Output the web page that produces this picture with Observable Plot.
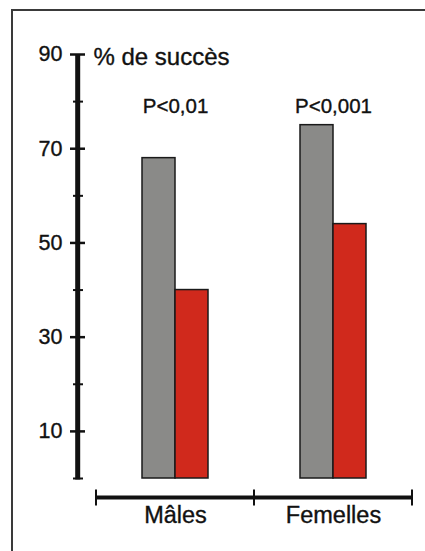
<!DOCTYPE html>
<html>
<head>
<meta charset="utf-8">
<script src="https://cdn.jsdelivr.net/npm/d3@7"></script>
<script src="https://cdn.jsdelivr.net/npm/@observablehq/plot@0.6"></script>
<style>
  html, body { margin: 0; padding: 0; background: #fff; }
  #wrap { position: relative; width: 425px; height: 551px; overflow: hidden; }
  #cadre { position: absolute; left: 10.5px; top: 8.5px; right: -20px; bottom: -20px;
           border-top: 2px solid #3a3a3a; border-left: 2px solid #3a3a3a; }
  #chart { position: absolute; left: 0; top: 0; }
  #chart text { paint-order: stroke; stroke: #111; stroke-width: 0.35px; }
</style>
</head>
<body>
<div id="wrap"><div id="cadre"></div><div id="chart"></div></div>
<script>
// ---- Données ----
const groupes = ["Mâles", "Femelles"];
const series = ["gris", "rouge"];
const valeursGris = [68, 75];
const valeursRouge = [40, 54];
const pValeurs = ["P<0,01", "P<0,001"];
const ticksMajeurs = [10, 30, 50, 70, 90];
const ticksMineurs = [0, 20, 40, 60, 80];
const titreAxe = "% de succès";
const couleurs = ["#8a8a88", "#d0291c"];

const donnees = groupes.flatMap((g, i) => [
  {groupe: g, serie: series[0], valeur: valeursGris[i]},
  {groupe: g, serie: series[1], valeur: valeursRouge[i]}
]);
const pTable = groupes.map((g, i) => ({groupe: g, p: pValeurs[i]}));

const ink = "#111";
const chart = Plot.plot({
  width: 425,
  height: 551,
  marginLeft: 95,
  marginRight: 13,
  marginTop: 54,
  marginBottom: 73,
  style: {fontFamily: "'Liberation Sans', Arial, sans-serif", background: "transparent", color: ink, overflow: "visible"},
  fx: {domain: groupes, padding: 0, axis: null},
  x: {domain: series, paddingInner: 0, paddingOuter: 1.39, axis: null},
  y: {domain: [0, 90], axis: null},
  color: {domain: series, range: couleurs},
  marks: [
    Plot.barY(donnees, {fx: "groupe", x: "serie", y: "valeur", fill: "serie", stroke: "#1a1a1a", strokeWidth: 1.5}),
    Plot.axisY(ticksMajeurs, {anchor: "left", label: null, tickSize: 15, dx: -11, tickPadding: 8,
      strokeWidth: 2.5, stroke: ink, fontSize: 21.5, fill: ink}),
    Plot.axisY(ticksMineurs, {anchor: "left", label: null, tickSize: 10, dx: -13, tickFormat: () => "",
      strokeWidth: 2, stroke: ink}),
    Plot.text(pTable, {fx: "groupe", text: "p", frameAnchor: "top", dy: 44, fontSize: 20.5, fill: ink}),
    Plot.text(groupes, {fx: d => d, text: d => d, frameAnchor: "bottom", dy: 44, fontSize: 23.5, fill: ink}),
    Plot.text([titreAxe], {fx: () => groupes[0], text: d => d, frameAnchor: "top-left", textAnchor: "start",
      dx: -3, dy: -7, fontSize: 24, fill: ink})
  ]
});
document.getElementById("chart").appendChild(chart);

// Lignes d'axes (axe vertical épais et ligne de base horizontale), à partir des échelles de Plot
const svg = d3.select(chart.tagName.toLowerCase() === "svg" ? chart : chart.querySelector("svg"));
const y = chart.scale("y");
const fx = chart.scale("fx");
const xStart = fx.apply(groupes[0]);
const xEnd = fx.apply(groupes[groupes.length - 1]) + fx.bandwidth;
const axeX = xStart - 18.3;
const g = svg.append("g").attr("stroke", ink).attr("fill", "none");
g.append("line").attr("x1", axeX).attr("x2", axeX)
  .attr("y1", y.apply(90)).attr("y2", y.apply(0) + 1.5).attr("stroke-width", 5);
const yBase = y.apply(0) + 19.5;
g.append("line").attr("x1", xStart).attr("x2", xEnd).attr("y1", yBase).attr("y2", yBase).attr("stroke-width", 4);
const bords = groupes.map(d => fx.apply(d)).concat([xEnd]);
g.selectAll(null).data(bords).join("line")
  .attr("x1", d => d).attr("x2", d => d)
  .attr("y1", yBase - 8).attr("y2", yBase + 8).attr("stroke-width", 2);
</script>
</body>
</html>
